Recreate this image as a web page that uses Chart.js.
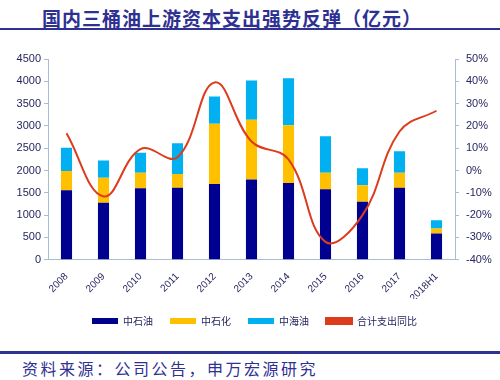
<!DOCTYPE html>
<html>
<head>
<meta charset="utf-8">
<script src="https://cdn.jsdelivr.net/npm/chart.js@4"></script>
<style>
  body { margin: 0; background: #fff; width: 500px; height: 380px; position: relative; overflow: hidden; }
  #title { position: absolute; left: 42px; top: 4px; font: bold 19px "Noto Sans CJK SC"; color: #2e3192; letter-spacing: 1px; white-space: nowrap; }
  .rule { position: absolute; left: 0; width: 500px; background: #2e3192; }
  #source { position: absolute; left: 22px; top: 356px; font: 16px "Noto Sans CJK SC"; color: #2e3192; letter-spacing: 2.5px; white-space: nowrap; }
  #wrap { position: absolute; left: 0; top: 32px; width: 500px; height: 318px; }
</style>
</head>
<body>
<div id="title">国内三桶油上游资本支出强势反弹（亿元）</div>
<div class="rule" style="top:28px;height:2px"></div>
<div id="wrap"><canvas id="capexChart"></canvas></div>
<div class="rule" style="top:351px;height:3px"></div>
<div id="source">资料来源：公司公告，申万宏源研究</div>
<script>
const years = ['2008', '2009', '2010', '2011', '2012', '2013', '2014', '2015', '2016', '2017', '2018H1'];
// 亿元
const cnpc = [1560, 1280, 1600, 1615, 1700, 1800, 1720, 1580, 1300, 1614, 587];
const sinopec = [430, 557, 350, 305, 1350, 1340, 1293, 370, 370, 336, 112];
const cnooc = [520, 388, 446, 690, 611, 878, 1057, 818, 380, 483, 187];
// 合计支出同比, %
const totalYoy = [16.7, -11.6, 9.6, 6, 39.5, 13, 5, -32, -20, 17.5, 26.8];

const axisColor = '#a9bcd6';
const textColor = '#262660';

const ctx = document.getElementById('capexChart');

new Chart(ctx, {
    type: 'bar',
    data: {
        labels: years,
        datasets: [
            { label: '中石油', data: cnpc, backgroundColor: '#000090', yAxisID: 'y', stack: 's' },
            { label: '中石化', data: sinopec, backgroundColor: '#ffc000', yAxisID: 'y', stack: 's' },
            { label: '中海油', data: cnooc, backgroundColor: '#00b0f0', yAxisID: 'y', stack: 's' },
            {
                type: 'line',
                label: '合计支出同比',
                data: totalYoy,
                yAxisID: 'y1',
                borderColor: '#dc3c1c',
                backgroundColor: '#dc3c1c',
                borderWidth: 2,
                pointRadius: 0,
                tension: 0.4,
                order: -1 // draw on top of bars
            }
        ]
    },
    options: {
        responsive: true,
        maintainAspectRatio: false,
        animation: false,
        datasets: { bar: { barPercentage: 0.3, categoryPercentage: 1 } },
        layout: { padding: { left: 16, right: 7, top: 27, bottom: 14 } },
        plugins: {
            tooltip: { enabled: false },
            legend: {
                position: 'bottom',
                labels: {
                    boxWidth: 26,
                    boxHeight: 6,
                    padding: 17,
                    color: textColor,
                    font: { family: 'Noto Sans CJK SC', size: 10 },
                    sort: (a, b) => a.datasetIndex - b.datasetIndex
                }
            }
        },
        scales: {
            x: {
                stacked: true,
                grid: { display: false },
                border: { display: true, color: axisColor, width: 1 },
                ticks: {
                    color: textColor,
                    minRotation: 45,
                    maxRotation: 45,
                    font: { family: 'Liberation Sans', size: 10 }
                },
                afterFit: scale => { scale.height -= 8; } // pull legend closer
            },
            y: {
                stacked: true,
                position: 'left',
                min: 0,
                max: 4500,
                grid: { drawOnChartArea: false, color: axisColor, tickLength: 4 },
                border: { color: axisColor },
                ticks: {
                    stepSize: 500,
                    color: textColor,
                    font: { family: 'Liberation Sans', size: 11 },
                    callback: v => String(v)
                },
                afterFit: scale => { scale.width = 32; }
            },
            y1: {
                position: 'right',
                min: -40,
                max: 50,
                grid: { drawOnChartArea: false, color: axisColor, tickLength: 4 },
                border: { color: axisColor },
                ticks: {
                    stepSize: 10,
                    padding: 7,
                    color: textColor,
                    font: { family: 'Liberation Sans', size: 11 },
                    callback: v => v + '%'
                },
                afterFit: scale => { scale.width = 38; }
            }
        }
    }
});
</script>
</body>
</html>
